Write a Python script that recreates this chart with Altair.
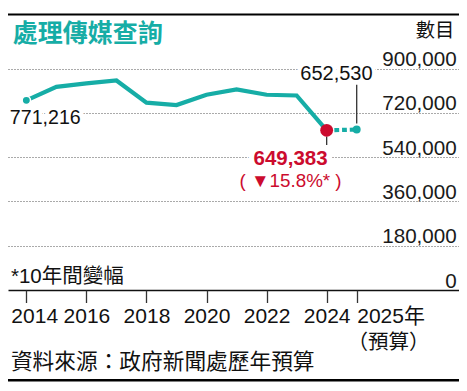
import altair as alt
import pandas as pd

# ---------------- data ----------------
years = list(range(2014, 2025))
enquiries = [771216, 826000, 840000, 852000, 762000, 752000, 794000, 816000, 794000, 791000, 649383]
budget_years = [2024, 2025]
budget_values = [649383, 652530]
x_tick_years = [2014, 2016, 2018, 2020, 2022, 2024, 2025]
y_tick_values = [0, 180000, 360000, 540000, 720000, 900000]

title_text = "處理傳媒查詢"
unit_text = "數目"
note_text = "*10年間變幅"
source_text = "資料來源：政府新聞處歷年預算"
budget_note = "（預算）"

change_pct = (enquiries[-1] - enquiries[0]) / enquiries[0] * 100
change_text = "( ▼{:.1f}%* )".format(abs(change_pct))

# ---------------- styles ----------------
TEAL = "#16ADA6"
RED = "#CC0B2E"
LAT = "Liberation Sans, Noto Sans CJK TC"
CJK = "Noto Sans CJK TC"
W, H, PB = 451, 282, 93

hist = pd.DataFrame({"year": years, "count": enquiries})
proj = pd.DataFrame({"year": budget_years, "count": budget_values})
first = hist.iloc[[0]]
last_actual = hist.iloc[[-1]].assign(change=change_text)
budget_last = proj.iloc[[-1]].assign(note=budget_note)

# x: 2014 -> 18.35px, 2025 -> 348.7px over a full-width range
px_per_year = (348.7 - 18.35) / 11
x_domain = [2014 - 18.35 / px_per_year, 2025 + (W - 348.7) / px_per_year]
# y: 0 -> 282px, 900,000 -> 60.7px over a full-height range
px_per_unit = (282 - 60.7) / 900000
y_domain = [0, H / px_per_unit]

xs = alt.Scale(domain=x_domain, nice=False, zero=False)
ys = alt.Scale(domain=y_domain, nice=False, zero=True)

y_axis = alt.Axis(
    orient="right", values=y_tick_values, format=",.0f", title=None,
    domain=False, ticks=False, tickSize=0,
    labelAlign="right", labelBaseline="alphabetic", labelPadding=-2.8, labelOffset=-3,
    labelFont=LAT, labelFontSize=20.6, labelColor="#1a1a1a", labelOverlap=False,
    grid=True,
    gridDash={"condition": {"test": "datum.value === 0", "value": []}, "value": [1, 2]},
    gridColor={"condition": {"test": "datum.value === 0", "value": "#111111"}, "value": "#555555"},
    gridWidth={"condition": {"test": "datum.value === 0", "value": 1.5}, "value": 1},
)
x_axis = alt.Axis(
    orient="bottom", values=x_tick_years, format="d", title=None,
    domain=False, grid=False, ticks=True, tickSize=12.5, tickColor="#333333", tickWidth=1.3,
    labelExpr="datum.value == 2025 ? '2025年' : datum.label",
    labelAlign={"condition": {"test": "datum.value === 2014 || datum.value === 2025", "value": "left"}, "value": "center"},
    labelOffset={"condition": {"test": "datum.value === 2014", "value": -15.5}, "value": 0},
    labelPadding=20.1, labelBaseline="alphabetic", labelFlush=False, labelOverlap=False,
    labelFont=LAT, labelFontSize=21, labelColor="#111111",
)

X = alt.X("year:Q", scale=xs, axis=x_axis)
Y = alt.Y("count:Q", scale=ys, axis=y_axis)

main_line = alt.Chart(hist).mark_line(color=TEAL, strokeWidth=4.2).encode(x=X, y=Y)
budget_line = alt.Chart(proj).mark_line(color=TEAL, strokeWidth=4.2, strokeDash=[4.8, 2.9]).encode(x=X, y=Y)

lead_2025 = alt.Chart(budget_last).mark_rule(color="#333333", strokeWidth=1.3).encode(
    x=X, y=alt.value(76.7), y2=alt.value(115.5))
lead_2024 = alt.Chart(last_actual).mark_rule(color="#333333", strokeWidth=1.3).encode(
    x=X, y=alt.value(128.5), y2=alt.value(137.1))

pt_first = alt.Chart(first).mark_point(filled=True, shape="circle", size=70, color=TEAL,
                                        stroke="white", strokeWidth=1.5, opacity=1).encode(x=X, y=Y)
pt_budget = alt.Chart(budget_last).mark_point(filled=True, shape="circle", size=63, color=TEAL, opacity=1).encode(x=X, y=Y)
pt_2024 = alt.Chart(last_actual).mark_point(filled=True, shape="circle", size=165, color=RED, opacity=1).encode(x=X, y=Y)


def annot(df, text, dx, dy, align, size, color, weight="normal", halo=8):
    enc = dict(x=X, y=Y, text=text)
    base = dict(dx=dx, dy=dy, align=align, baseline="alphabetic", font=LAT, fontSize=size, fontWeight=weight)
    h = alt.Chart(df).mark_text(fill="white", stroke="white", strokeWidth=halo, strokeJoin="round", **base).encode(**enc)
    t = alt.Chart(df).mark_text(color=color, **base).encode(**enc)
    return [h, t]


fmt = alt.Text("count:Q", format=",")
labels = []
labels += annot(first, fmt, -16.5, 24.1, "left", 19.6, "#111111")
labels += annot(budget_last, fmt, -20.3, -49.6, "center", 20, "#111111")
labels += annot(last_actual, fmt, -36.1, 35, "center", 20.5, RED, weight="bold", halo=11)
labels += annot(last_actual, alt.Text("change:N"), -36.1, 57, "center", 18.8, RED, halo=11)

budget_note_txt = alt.Chart(budget_last).mark_text(
    align="center", baseline="alphabetic", dx=31.9, font=CJK, fontSize=20.5, color="#111111"
).encode(x=X, y=alt.value(341), text="note:N")


def static(text, x, y, size, align="left", color="#111111", weight="normal", font=CJK):
    return alt.Chart(pd.DataFrame({"t": [text]})).mark_text(
        align=align, baseline="alphabetic", font=font, fontSize=size, color=color, fontWeight=weight
    ).encode(x=alt.value(x), y=alt.value(y), text="t:N")


title = static(title_text, 4.8, 33.6, 25, color=TEAL, weight="bold")
unit = static(unit_text, 446.3, 29.3, 19.3, align="right")
note = static(note_text, 2.9, 274.8, 20.5, font=LAT)
source = static(source_text, 2.9, 361, 21.7)

top_rule = alt.Chart(pd.DataFrame({"k": [1]})).mark_rect(color="#000000").encode(
    x=alt.value(0), x2=alt.value(W), y=alt.value(5.5), y2=alt.value(7.5))
bottom_rule = alt.Chart(pd.DataFrame({"k": [2]})).mark_rect(color="#000000").encode(
    x=alt.value(0), x2=alt.value(W), y=alt.value(371.1), y2=alt.value(373.5))

chart = alt.layer(
    main_line, budget_line, *labels, lead_2025, lead_2024, pt_first, pt_budget, pt_2024,
    budget_note_txt, title, unit, note, source, top_rule, bottom_rule,
).properties(
    width=W, height=H,
    padding={"left": 0, "top": 0, "right": 0, "bottom": PB},
    autosize=alt.AutoSizeParams(type="none"),
    background="white",
).configure_view(stroke=None)

chart.save("out.html", embed_options={"renderer": "svg", "actions": False})
